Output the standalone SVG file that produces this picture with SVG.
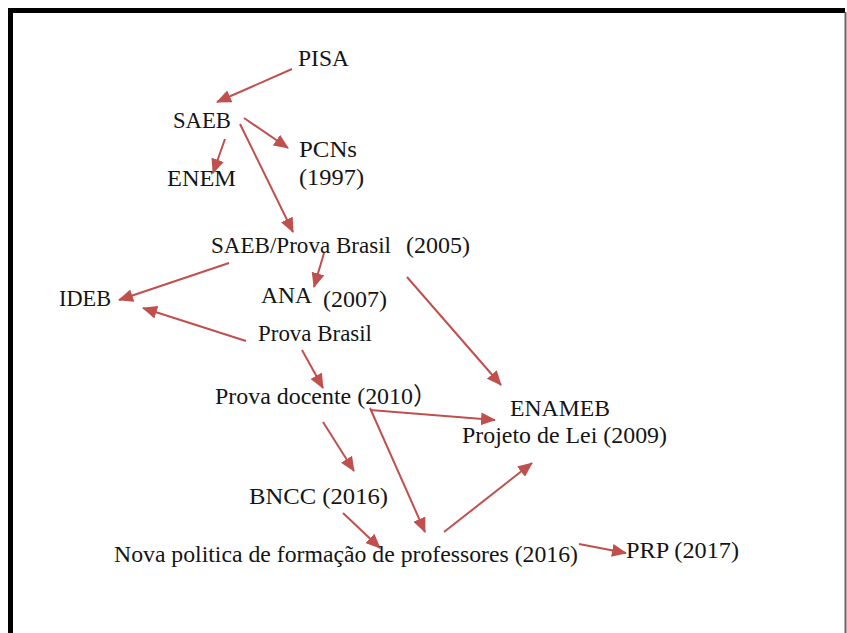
<svg xmlns="http://www.w3.org/2000/svg" width="847" height="633" viewBox="0 0 847 633">
<style>
.t{font-family:'Liberation Serif',serif;font-size:24px;fill:#151515}
.cjk{font-family:'Noto Sans CJK SC',sans-serif}
.c line{stroke:#C0504D;stroke-width:2;marker-end:url(#ah)}
</style>
<defs>
<marker id="ah" markerUnits="userSpaceOnUse" markerWidth="16" markerHeight="14" refX="14" refY="6.5" orient="auto">
<path d="M0,0 L15,6.5 L0,13 Z" fill="#C0504D"/>
</marker>
</defs>
<rect width="847" height="633" fill="#fff"/>
<path d="M10.5,633 V10.5 H845" fill="none" stroke="#000" stroke-width="5"/>
<line x1="845.5" y1="12" x2="845.5" y2="633" stroke="#666" stroke-width="2"/>
<g class="c" id="connectors">
<line x1="292" y1="69" x2="217" y2="102"/>
<line x1="225" y1="139" x2="213" y2="173"/>
<line x1="244" y1="118" x2="288" y2="148"/>
<line x1="240" y1="124" x2="293" y2="232"/>
<line x1="324" y1="253" x2="314" y2="287"/>
<line x1="229" y1="263" x2="119" y2="300"/>
<line x1="246" y1="341" x2="143" y2="308"/>
<line x1="302" y1="350" x2="323" y2="388"/>
<line x1="407" y1="277" x2="501" y2="385"/>
<line x1="370" y1="410" x2="495" y2="420"/>
<line x1="370" y1="408" x2="425" y2="532"/>
<line x1="323" y1="422" x2="354" y2="471"/>
<line x1="343" y1="513" x2="380" y2="548"/>
<line x1="444" y1="532" x2="532" y2="463"/>
<line x1="579" y1="544" x2="626" y2="553"/>
</g>
<g class="t">
<g id="pisa"><text x="298" y="66" textLength="51" lengthAdjust="spacingAndGlyphs">PISA</text></g>
<g id="saeb"><text x="173" y="128" textLength="58" lengthAdjust="spacingAndGlyphs">SAEB</text></g>
<g id="pcns"><text x="299" y="157" textLength="58" lengthAdjust="spacingAndGlyphs">PCNs</text><text x="299" y="185" textLength="65" lengthAdjust="spacingAndGlyphs">(1997)</text></g>
<g id="enem"><text x="167" y="186" textLength="69" lengthAdjust="spacingAndGlyphs">ENEM</text></g>
<g id="saeb-prova"><text x="211" y="253" textLength="180" lengthAdjust="spacingAndGlyphs">SAEB/Prova Brasil</text><text x="406" y="253" textLength="64" lengthAdjust="spacingAndGlyphs">(2005)</text></g>
<g id="ideb"><text x="59" y="306" textLength="52" lengthAdjust="spacingAndGlyphs">IDEB</text></g>
<g id="ana"><text x="261" y="303" textLength="51" lengthAdjust="spacingAndGlyphs">ANA</text><text x="323" y="307" textLength="64" lengthAdjust="spacingAndGlyphs">(2007)</text></g>
<g id="prova-brasil"><text x="258" y="341" textLength="114" lengthAdjust="spacingAndGlyphs">Prova Brasil</text></g>
<g id="prova-docente"><text x="215" y="404"><tspan textLength="198" lengthAdjust="spacingAndGlyphs">Prova docente (2010</tspan><tspan class="cjk">）</tspan></text></g>
<g id="enameb"><text x="510" y="416" textLength="100" lengthAdjust="spacingAndGlyphs">ENAMEB</text><text x="462" y="443" textLength="205" lengthAdjust="spacingAndGlyphs">Projeto de Lei (2009)</text></g>
<g id="bncc"><text x="249" y="504" textLength="139" lengthAdjust="spacingAndGlyphs">BNCC (2016)</text></g>
<g id="nova"><text x="114" y="562" textLength="464" lengthAdjust="spacingAndGlyphs">Nova politica de formação de professores (2016)</text></g>
<g id="prp"><text x="626" y="558" textLength="113" lengthAdjust="spacingAndGlyphs">PRP (2017)</text></g>
</g>
</svg>
